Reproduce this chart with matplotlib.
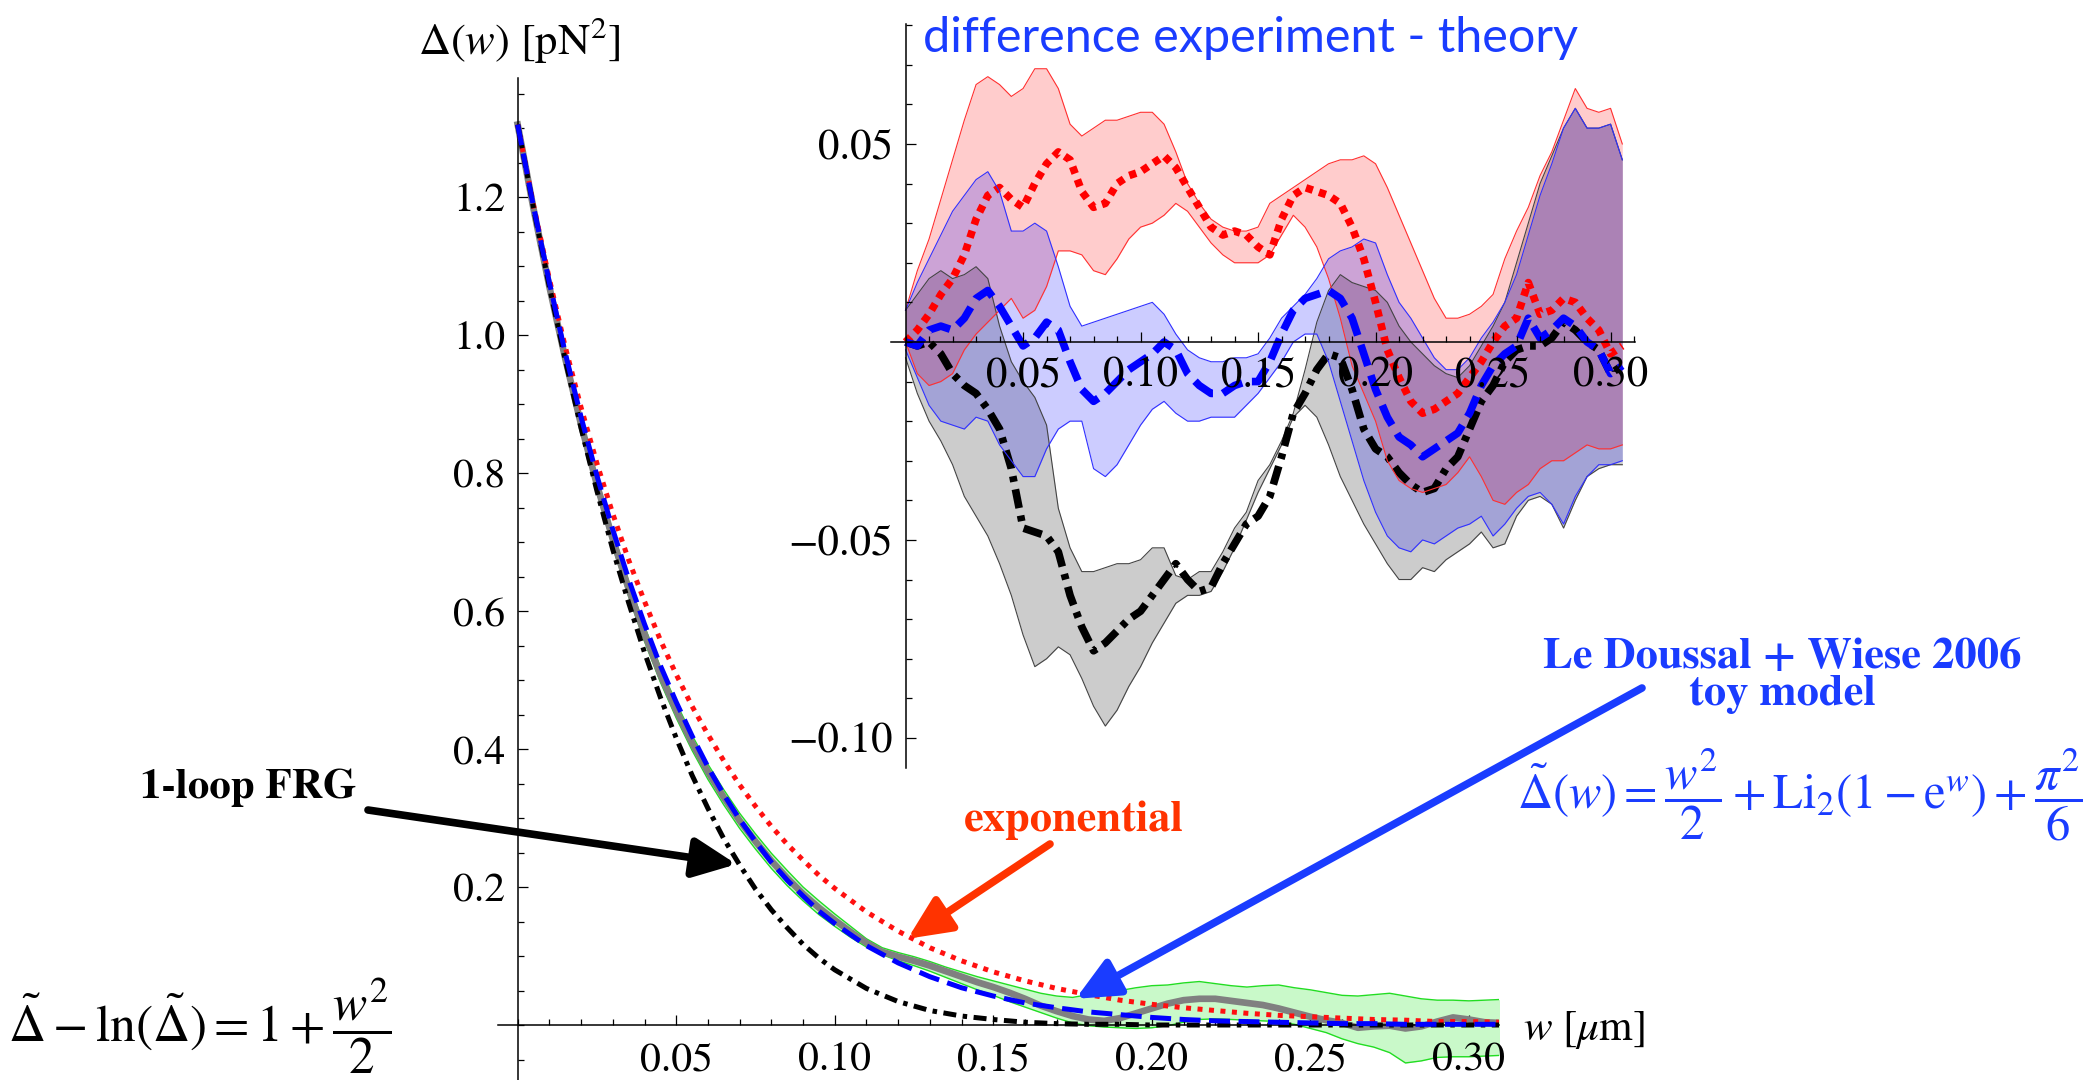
import numpy as np
import matplotlib
matplotlib.use('Agg')
import matplotlib.pyplot as plt
from matplotlib.ticker import MultipleLocator, FixedLocator

plt.rcParams['font.family'] = ['STIXGeneral', 'DejaVu Sans']
plt.rcParams['mathtext.fontset'] = 'stix'

# ---- main panel: theory curves, Delta(w) in pN^2 ----
w_th = [0.000, 0.005, 0.010, 0.015, 0.020, 0.025, 0.030, 0.035, 0.040, 0.045,
        0.050, 0.055, 0.060, 0.065, 0.070, 0.075, 0.080, 0.085, 0.090, 0.095,
        0.10, 0.11, 0.12, 0.13, 0.14, 0.15, 0.16, 0.17, 0.18, 0.19, 0.20,
        0.21, 0.22, 0.23, 0.24, 0.25, 0.26, 0.27, 0.28, 0.29, 0.30, 0.31]
exp_th = [1.305, 1.188, 1.081, 0.983, 0.895, 0.814, 0.741, 0.674, 0.614, 0.558,
          0.508, 0.462, 0.421, 0.383, 0.348, 0.317, 0.288, 0.262, 0.239, 0.217,
          0.198, 0.164, 0.136, 0.112, 0.093, 0.077, 0.064, 0.053, 0.044, 0.036, 0.030,
          0.025, 0.021, 0.017, 0.014, 0.012, 0.010, 0.008, 0.007, 0.005, 0.005, 0.004]
toy_th = [1.305, 1.186, 1.076, 0.974, 0.881, 0.796, 0.718, 0.646, 0.581, 0.521,
          0.468, 0.419, 0.374, 0.334, 0.298, 0.266, 0.236, 0.210, 0.187, 0.165,
          0.147, 0.115, 0.090, 0.070, 0.054, 0.042, 0.032, 0.025, 0.019, 0.015, 0.011,
          0.008, 0.006, 0.005, 0.004, 0.003, 0.002, 0.002, 0.001, 0.001, 0.001, 0.001]
frg_th = [1.305, 1.184, 1.070, 0.964, 0.865, 0.774, 0.689, 0.612, 0.540, 0.475,
          0.416, 0.362, 0.314, 0.270, 0.232, 0.197, 0.167, 0.141, 0.117, 0.097,
          0.080, 0.053, 0.034, 0.021, 0.013, 0.008, 0.004, 0.002, 0.001, 0.001, 0.000,
          0.000, 0.000, 0.000, 0.000, 0.000, 0.000, 0.000, 0.000, 0.000, 0.000, 0.000]

# ---- main panel: measured Delta(w) with error band ----
w_ex = [i * 0.005 for i in range(63)]
delta_ex = [1.305, 1.183, 1.070, 0.966, 0.870, 0.783, 0.704, 0.632, 0.567, 0.508,
            0.456, 0.409, 0.367, 0.330, 0.296, 0.266, 0.238, 0.213, 0.190, 0.170,
            0.152, 0.135, 0.119, 0.106, 0.099, 0.093, 0.086, 0.078, 0.070, 0.062,
            0.055, 0.047, 0.038, 0.028, 0.020, 0.013, 0.008, 0.006, 0.010, 0.017,
            0.024, 0.031, 0.036, 0.038, 0.038, 0.035, 0.032, 0.029, 0.024, 0.018,
            0.012, 0.007, 0.003, -0.004, -0.002, -0.001, -0.005, -0.002, 0.005, 0.011,
            0.008, 0.004, 0.003]
delta_hi = [1.305, 1.190, 1.080, 0.977, 0.881, 0.794, 0.715, 0.643, 0.578, 0.519,
            0.467, 0.420, 0.378, 0.341, 0.307, 0.277, 0.249, 0.224, 0.200, 0.180,
            0.161, 0.143, 0.125, 0.112, 0.105, 0.099, 0.092, 0.084, 0.077, 0.070,
            0.064, 0.058, 0.052, 0.046, 0.042, 0.040, 0.044, 0.047, 0.050, 0.054,
            0.057, 0.058, 0.061, 0.063, 0.060, 0.057, 0.055, 0.057, 0.058, 0.054,
            0.051, 0.047, 0.043, 0.042, 0.044, 0.046, 0.042, 0.038, 0.036, 0.036,
            0.035, 0.036, 0.037]
delta_lo = [1.305, 1.176, 1.060, 0.955, 0.859, 0.772, 0.693, 0.621, 0.556, 0.497,
            0.445, 0.398, 0.356, 0.319, 0.285, 0.255, 0.227, 0.202, 0.180, 0.160,
            0.143, 0.127, 0.113, 0.102, 0.093, 0.086, 0.078, 0.069, 0.060, 0.051,
            0.043, 0.034, 0.026, 0.018, 0.010, 0.003, -0.001, -0.003, -0.004, -0.005,
            -0.004, -0.001, 0.004, 0.008, 0.009, 0.008, 0.007, 0.006, 0.005, 0.001,
            -0.005, -0.011, -0.020, -0.027, -0.032, -0.040, -0.055, -0.052, -0.047, -0.046,
            -0.046, -0.045, -0.044]

# ---- inset: experiment minus theory ----
w_in = [i * 0.005 for i in range(62)]
d_exp = [0.000, 0.003, 0.007, 0.012, 0.016, 0.022, 0.031, 0.037, 0.039, 0.036,
         0.034, 0.040, 0.045, 0.048, 0.046, 0.038, 0.034, 0.035, 0.040, 0.042,
         0.043, 0.045, 0.047, 0.044, 0.039, 0.034, 0.029, 0.027, 0.028, 0.027,
         0.024, 0.022, 0.031, 0.037, 0.039, 0.038, 0.037, 0.035, 0.029, 0.021,
         0.010, -0.002, -0.009, -0.015, -0.018, -0.017, -0.015, -0.013, -0.009, -0.005,
         0.000, 0.004, 0.006, 0.015, 0.007, 0.008, 0.011, 0.010, 0.006, 0.003,
         -0.003, -0.001]
d_exp_hi = [0.008, 0.018, 0.026, 0.036, 0.046, 0.056, 0.065, 0.067, 0.065, 0.062,
            0.064, 0.069, 0.069, 0.064, 0.055, 0.052, 0.054, 0.056, 0.056, 0.057,
            0.058, 0.058, 0.055, 0.048, 0.040, 0.035, 0.031, 0.029, 0.028, 0.028,
            0.029, 0.035, 0.037, 0.039, 0.041, 0.043, 0.045, 0.046, 0.046, 0.047,
            0.045, 0.039, 0.032, 0.025, 0.018, 0.011, 0.006, 0.006, 0.007, 0.009,
            0.012, 0.021, 0.028, 0.034, 0.042, 0.048, 0.056, 0.064, 0.059, 0.058,
            0.059, 0.050]
d_exp_lo = [0.000, -0.008, -0.011, -0.010, -0.008, -0.002, 0.002, 0.005, 0.008, 0.011,
            0.006, 0.008, 0.014, 0.023, 0.023, 0.022, 0.018, 0.017, 0.021, 0.026,
            0.029, 0.030, 0.032, 0.035, 0.033, 0.029, 0.025, 0.022, 0.020, 0.020,
            0.020, 0.022, 0.027, 0.032, 0.029, 0.024, 0.016, 0.006, -0.006, -0.013,
            -0.020, -0.030, -0.035, -0.037, -0.038, -0.037, -0.036, -0.033, -0.029, -0.034,
            -0.040, -0.041, -0.038, -0.036, -0.032, -0.030, -0.030, -0.028, -0.026, -0.027,
            -0.027, -0.026]
d_toy = [0.000, -0.001, 0.003, 0.004, 0.003, 0.006, 0.011, 0.013, 0.009, 0.004,
         -0.001, 0.001, 0.005, 0.003, -0.005, -0.012, -0.015, -0.013, -0.010, -0.007,
         -0.005, -0.003, 0.000, -0.002, -0.008, -0.011, -0.013, -0.013, -0.011, -0.010,
         -0.010, -0.005, 0.002, 0.008, 0.011, 0.012, 0.013, 0.011, 0.006, -0.003,
         -0.012, -0.019, -0.024, -0.026, -0.029, -0.027, -0.025, -0.023, -0.018, -0.011,
         -0.006, -0.003, -0.001, 0.006, 0.001, 0.003, 0.006, 0.004, 0.000, -0.002,
         -0.008, -0.006]
d_toy_hi = [0.008, 0.015, 0.021, 0.027, 0.033, 0.037, 0.041, 0.043, 0.038, 0.028,
            0.028, 0.030, 0.028, 0.019, 0.009, 0.004, 0.005, 0.006, 0.007, 0.008,
            0.009, 0.010, 0.007, 0.002, -0.002, -0.004, -0.005, -0.005, -0.004, -0.004,
            -0.003, 0.001, 0.006, 0.009, 0.012, 0.016, 0.021, 0.023, 0.024, 0.026,
            0.025, 0.017, 0.010, 0.006, 0.001, -0.004, -0.007, -0.007, -0.004, 0.001,
            0.005, 0.010, 0.017, 0.027, 0.037, 0.045, 0.054, 0.059, 0.054, 0.054,
            0.055, 0.046]
d_toy_lo = [-0.002, -0.009, -0.016, -0.020, -0.021, -0.022, -0.019, -0.020, -0.026, -0.030,
            -0.034, -0.034, -0.027, -0.022, -0.020, -0.020, -0.032, -0.034, -0.031, -0.026,
            -0.021, -0.017, -0.015, -0.018, -0.020, -0.020, -0.019, -0.019, -0.019, -0.016,
            -0.013, -0.009, -0.005, 0.000, 0.002, 0.002, -0.005, -0.015, -0.025, -0.035,
            -0.043, -0.049, -0.052, -0.053, -0.050, -0.051, -0.049, -0.047, -0.046, -0.044,
            -0.049, -0.046, -0.042, -0.039, -0.038, -0.041, -0.046, -0.039, -0.034, -0.031,
            -0.031, -0.030]
d_frg = [0.000, -0.001, 0.000, -0.003, -0.008, -0.011, -0.013, -0.017, -0.022, -0.032,
         -0.047, -0.048, -0.049, -0.053, -0.064, -0.072, -0.078, -0.076, -0.073, -0.070,
         -0.068, -0.064, -0.060, -0.056, -0.060, -0.063, -0.062, -0.056, -0.051, -0.046,
         -0.044, -0.039, -0.029, -0.018, -0.013, -0.007, -0.003, -0.004, -0.012, -0.022,
         -0.027, -0.029, -0.033, -0.036, -0.038, -0.037, -0.032, -0.029, -0.022, -0.015,
         -0.011, -0.005, -0.002, -0.001, -0.001, 0.001, 0.005, 0.003, 0.000, -0.002,
         -0.008, -0.006]
d_frg_hi = [0.008, 0.012, 0.016, 0.018, 0.016, 0.017, 0.019, 0.016, 0.004, -0.005,
            -0.010, -0.014, -0.021, -0.042, -0.052, -0.058, -0.058, -0.057, -0.056, -0.056,
            -0.055, -0.052, -0.052, -0.059, -0.060, -0.058, -0.058, -0.053, -0.047, -0.043,
            -0.035, -0.031, -0.025, -0.018, -0.007, 0.005, 0.013, 0.017, 0.015, 0.014,
            0.013, 0.010, 0.004, 0.000, -0.003, -0.006, -0.008, -0.009, -0.006, -0.001,
            0.004, 0.010, 0.020, 0.030, 0.040, 0.047, 0.054, 0.059, 0.054, 0.054,
            0.055, 0.046]
d_frg_lo = [-0.004, -0.013, -0.020, -0.025, -0.031, -0.039, -0.044, -0.049, -0.056, -0.064,
            -0.074, -0.082, -0.080, -0.077, -0.079, -0.085, -0.092, -0.097, -0.093, -0.087,
            -0.082, -0.076, -0.071, -0.066, -0.064, -0.064, -0.063, -0.058, -0.052, -0.045,
            -0.038, -0.032, -0.026, -0.019, -0.016, -0.019, -0.026, -0.034, -0.040, -0.046,
            -0.051, -0.056, -0.060, -0.060, -0.057, -0.058, -0.055, -0.053, -0.051, -0.048,
            -0.052, -0.051, -0.044, -0.040, -0.039, -0.041, -0.047, -0.040, -0.034, -0.032,
            -0.031, -0.031]

x_ticks = [0.05, 0.10, 0.15, 0.20, 0.25, 0.30]
x_ticklabels = ['0.05', '0.10', '0.15', '0.20', '0.25', '0.30']
y_ticks = [0.2, 0.4, 0.6, 0.8, 1.0, 1.2]
y_ticklabels = ['0.2', '0.4', '0.6', '0.8', '1.0', '1.2']
yin_ticks = [-0.10, -0.05, 0.05]
yin_ticklabels = ['\u22120.10', '\u22120.05', '0.05']

W, H = 2087, 1080
fig = plt.figure(figsize=(W / 100, H / 100), dpi=100)

RED = '#ff1010'
BLUE = '#0000ff'
TXT_BLUE = '#1a3cff'


def axes_through_origin(a, size):
    for s in ('top', 'right'):
        a.spines[s].set_visible(False)
    a.spines['left'].set_position(('data', 0))
    a.spines['bottom'].set_position(('data', 0))
    for s in ('left', 'bottom'):
        a.spines[s].set_linewidth(1.1)
    a.tick_params(which='both', direction='in', width=0.9, labelsize=size)
    a.tick_params(which='major', length=7.5)
    a.tick_params(which='minor', length=4.5)
    a.patch.set_visible(False)


# main panel
ax = fig.add_axes([497.7 / W, 0.0, (1499 - 497.7) / W, (H - 78) / H])
ax.set_xlim(-0.0063, 0.3095)
ax.set_ylim(-0.0797, 1.3725)
axes_through_origin(ax, 30)
ax.xaxis.set_major_locator(FixedLocator(x_ticks))
ax.set_xticklabels(x_ticklabels)
ax.xaxis.set_minor_locator(MultipleLocator(0.01))
ax.yaxis.set_major_locator(FixedLocator(y_ticks))
ax.set_yticklabels(y_ticklabels)
ax.yaxis.set_minor_locator(MultipleLocator(0.05))
ax.tick_params(axis='x', pad=12)
ax.tick_params(axis='y', pad=9)

ax.fill_between(w_ex, delta_lo, delta_hi, color='#c9f9c9', lw=0, zorder=1)
ax.plot(w_ex, delta_hi, color='#22dd22', lw=1.0, zorder=1.2)
ax.plot(w_ex, delta_lo, color='#22dd22', lw=1.0, zorder=1.2)
ax.plot(w_ex, delta_ex, color='#808080', lw=4.8, zorder=2)
ax.plot(w_th, exp_th, color=RED, lw=3.6, dashes=(1.0, 1.3), zorder=3)
ax.plot(w_th, frg_th, color='black', lw=3.6, dashes=(2.6, 1.3, 0.9, 1.3), zorder=3)
ax.plot(w_th, toy_th, color=BLUE, lw=3.6, dashes=(4.2, 1.7), zorder=3)

# inset
ax2 = fig.add_axes([891 / W, 1 - 768 / H, (1635 - 891) / W, (768 - 24) / H])
ax2.set_xlim(-0.0062, 0.3104)
ax2.set_ylim(-0.1076, 0.0803)
axes_through_origin(ax2, 31)
ax2.set_axisbelow(False)
ax2.xaxis.set_major_locator(FixedLocator(x_ticks))
ax2.set_xticklabels(x_ticklabels)
ax2.xaxis.set_minor_locator(MultipleLocator(0.01))
ax2.yaxis.set_major_locator(FixedLocator(yin_ticks))
ax2.set_yticklabels(yin_ticklabels)
ax2.yaxis.set_minor_locator(MultipleLocator(0.01))
ax2.tick_params(axis='x', pad=11)
ax2.tick_params(axis='y', pad=9)

ax2.fill_between(w_in, d_frg_lo, d_frg_hi, color='black', alpha=0.2, lw=0)
ax2.plot(w_in, d_frg_hi, color='#444444', lw=0.8)
ax2.plot(w_in, d_frg_lo, color='#444444', lw=0.8)
ax2.plot(w_in, d_frg, color='black', lw=5.5, dashes=(2.5, 1.0, 0.75, 1.0))
ax2.fill_between(w_in, d_exp_lo, d_exp_hi, color='red', alpha=0.2, lw=0)
ax2.plot(w_in, d_exp_hi, color='#ff3030', lw=0.8)
ax2.plot(w_in, d_exp_lo, color='#ff3030', lw=0.8)
ax2.plot(w_in, d_exp, color='red', lw=5.5, dashes=(0.95, 0.85))
ax2.fill_between(w_in, d_toy_lo, d_toy_hi, color='blue', alpha=0.2, lw=0)
ax2.plot(w_in, d_toy_hi, color='#3030ff', lw=0.8)
ax2.plot(w_in, d_toy_lo, color='#3030ff', lw=0.8)
ax2.plot(w_in, d_toy, color=BLUE, lw=5.5, dashes=(2.9, 1.3))

fig.text(923 / W, 1 - 52 / H, 'difference experiment - theory', family='Lato',
         fontsize=35, color=TXT_BLUE, va='baseline', ha='left')

# axis labels
fig.text(418 / W, 1 - 40 / H, r'$\Delta(w)\ [\mathrm{pN}^2]$', fontsize=32,
         ha='left', va='center')
fig.text(1523 / W, 1 - 1030 / H, r'$w\ [\mu\mathrm{m}]$', fontsize=31,
         ha='left', va='center')

# formulas
fig.text(8 / W, 1 - 1026 / H,
         r'$\tilde{\Delta} - \ln(\tilde{\Delta}) = 1 + \dfrac{w^2}{2}$',
         fontsize=37, ha='left', va='center')
fig.text(1517 / W, 1 - 795 / H,
         r'$\tilde{\Delta}(w) = \dfrac{w^2}{2} + \mathrm{Li}_2(1 - \mathrm{e}^w) + \dfrac{\pi^2}{6}$',
         fontsize=35, color=TXT_BLUE, ha='left', va='center')

# annotations
arrow_kw = dict(arrowstyle='-|>,head_length=0.65,head_width=0.3', lw=5.5,
                mutation_scale=40, shrinkA=0, shrinkB=0)
fig.text(248 / W, 1 - 788 / H, '1-loop FRG', fontsize=31, weight='bold',
         ha='center', va='center')
ax.annotate('', xy=(0.069, 0.233), xytext=(368, H - 810), textcoords='figure pixels',
            arrowprops=dict(color='black', **arrow_kw))
fig.text(1074 / W, 1 - 820 / H, 'exponential', fontsize=32, weight='bold',
         color='#ff3300', ha='center', va='center')
ax.annotate('', xy=(0.123, 0.125), xytext=(1050, H - 844), textcoords='figure pixels',
            arrowprops=dict(color='#ff3300', **arrow_kw))
fig.text(1782 / W, 1 - 676 / H, 'Le Doussal + Wiese 2006\ntoy model', fontsize=32,
         weight='bold', color=TXT_BLUE, ha='center', va='center',
         multialignment='center', linespacing=0.95)
ax.annotate('', xy=(0.176, 0.038), xytext=(1642, H - 688), textcoords='figure pixels',
            arrowprops=dict(color=TXT_BLUE, **arrow_kw))

fig.savefig('out.png', dpi=100)
